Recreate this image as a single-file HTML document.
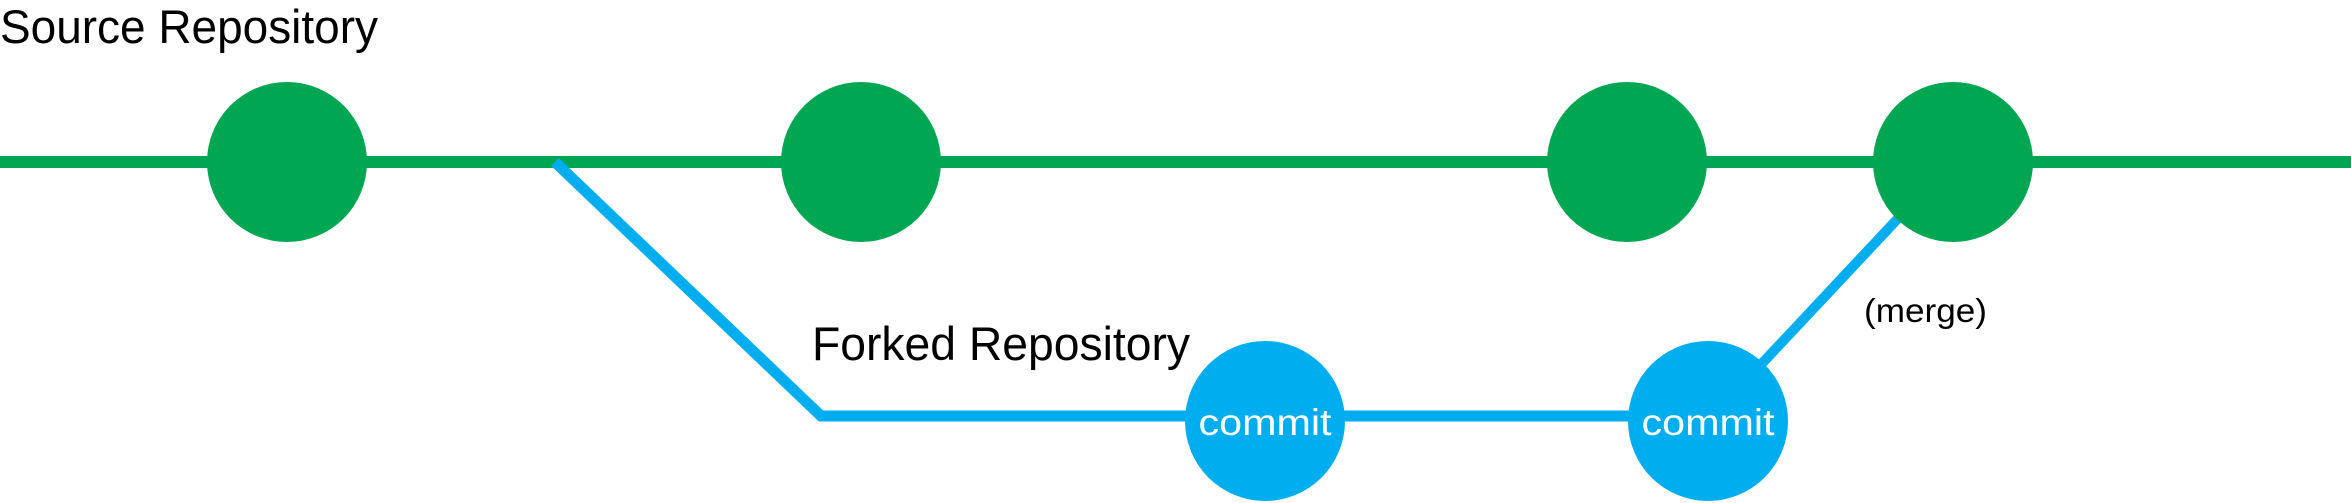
<!DOCTYPE html>
<html><head><meta charset="utf-8"><style>
html,body{margin:0;padding:0;background:#fff;}
svg{display:block;}
</style></head><body>
<svg width="2351" height="503" viewBox="0 0 2351 503" xmlns="http://www.w3.org/2000/svg" font-family="Liberation Sans, sans-serif">
<rect width="2351" height="503" fill="#fff"/>
<line x1="0" y1="162" x2="2351" y2="162" stroke="#00a651" stroke-width="12"/>
<polyline points="555,162 821,416 1265,416 1708,416" fill="none" stroke="#00aeef" stroke-width="11" stroke-linejoin="miter"/>
<line x1="1708" y1="421" x2="1920" y2="195" stroke="#00aeef" stroke-width="10"/>
<g fill="#00a651">
<circle cx="287" cy="162" r="80"/>
<circle cx="861" cy="162" r="80"/>
<circle cx="1627" cy="162" r="80"/>
<circle cx="1953" cy="162" r="80"/>
</g>
<g fill="#00aeef">
<circle cx="1265" cy="421" r="80"/>
<circle cx="1708" cy="421" r="80"/>
</g>
<text x="0" y="43" font-size="47" fill="#000" textLength="378" lengthAdjust="spacingAndGlyphs">Source Repository</text>
<text x="812" y="360" font-size="47" fill="#000" textLength="378" lengthAdjust="spacingAndGlyphs">Forked Repository</text>
<text x="1864" y="322" font-size="33" fill="#000" textLength="123" lengthAdjust="spacingAndGlyphs">(merge)</text>
<text x="1265" y="435" font-size="37" fill="#fff" text-anchor="middle" textLength="133" lengthAdjust="spacingAndGlyphs">commit</text>
<text x="1708" y="435" font-size="37" fill="#fff" text-anchor="middle" textLength="133" lengthAdjust="spacingAndGlyphs">commit</text>
</svg>
</body></html>
